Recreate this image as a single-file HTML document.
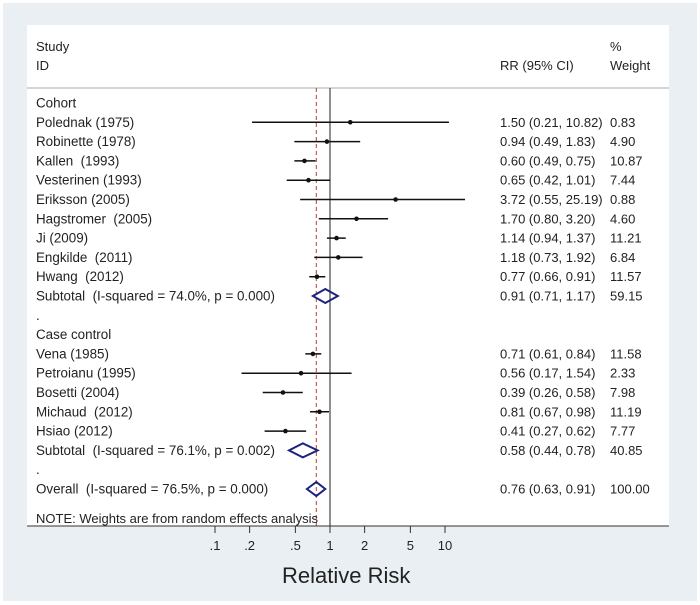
<!DOCTYPE html>
<html><head><meta charset="utf-8"><style>
body{margin:0;background:#fff;width:700px;height:605px;overflow:hidden}
svg{display:block;font-family:"Liberation Sans",sans-serif}
text{white-space:pre}
</style></head><body>
<svg id="chart" width="700" height="605">
<rect x="3" y="3" width="694" height="598" fill="#e9eff2"/>
<rect x="27" y="25" width="642" height="501" fill="#fff"/>
<g font-size="13" fill="#222">
<text x="36" y="51">Study</text>
<text x="36" y="70">ID</text>
<text x="500" y="70">RR (95% CI)</text>
<text x="610" y="51">%</text>
<text x="610" y="70">Weight</text>
</g>
<line x1="27" y1="88" x2="669" y2="88" stroke="#aaa" stroke-width="1"/>
<g id="rows"></g>
<text x="282" y="583" font-size="22" fill="#222">Relative Risk</text>
</svg>
<script>
const labels=["Cohort","Polednak (1975)","Robinette (1978)","Kallen  (1993)","Vesterinen (1993)","Eriksson (2005)","Hagstromer  (2005)","Ji (2009)","Engkilde  (2011)","Hwang  (2012)","Subtotal  (I-squared = 74.0%, p = 0.000)",".","Case control","Vena (1985)","Petroianu (1995)","Bosetti (2004)","Michaud  (2012)","Hsiao (2012)","Subtotal  (I-squared = 76.1%, p = 0.002)",".","Overall  (I-squared = 76.5%, p = 0.000)"];
const kinds=["h","s","s","s","s","s","s","s","s","s","d","h","h","s","s","s","s","s","d","h","d"];
const rr=[null,1.50,0.94,0.60,0.65,3.72,1.70,1.14,1.18,0.77,0.91,null,null,0.71,0.56,0.39,0.81,0.41,0.58,null,0.76];
const lo=[null,0.21,0.49,0.49,0.42,0.55,0.80,0.94,0.73,0.66,0.71,null,null,0.61,0.17,0.26,0.67,0.27,0.44,null,0.63];
const hi=[null,10.82,1.83,0.75,1.01,25.19,3.20,1.37,1.92,0.91,1.17,null,null,0.84,1.54,0.58,0.98,0.62,0.78,null,0.91];
const weights=[null,"0.83","4.90","10.87","7.44","0.88","4.60","11.21","6.84","11.57","59.15",null,null,"11.58","2.33","7.98","11.19","7.77","40.85",null,"100.00"];
const ticks=[0.1,0.2,0.5,1,2,5,10];
const tickLabels=[".1",".2",".5","1","2","5","10"];
const overall=0.76;
const NS="http://www.w3.org/2000/svg";
const X=v=>330+115*Math.log10(v);
const Y=i=>103+i*19.3;
const XMAX=465;
const svg=document.getElementById('chart');
const g=document.getElementById('rows');
function mk(t,a,p){const e=document.createElementNS(NS,t);for(const k in a)e.setAttribute(k,a[k]);(p||g).appendChild(e);return e;}
const f=v=>v.toFixed(2);
let l=mk('line',{x1:330,y1:88,x2:330,y2:526,stroke:'#222','stroke-width':1});


l=mk('line',{x1:X(overall),y1:88,x2:X(overall),y2:526,stroke:'#c0392b','stroke-width':1,'stroke-dasharray':'4,3'});


labels.forEach((lab,i)=>{
  const y=Y(i);
  const t=mk('text',{x:36,y:y+4.5,'font-size':13.4,fill:'#222'});t.textContent=lab;
  
  
  if(rr[i]==null)return;
  const r=mk('text',{x:500,y:y+4.5,'font-size':13,fill:'#222'});
  r.textContent=f(rr[i])+" ("+f(lo[i])+", "+f(hi[i])+")";
  
  
  const w=mk('text',{x:610,y:y+4.5,'font-size':13,fill:'#222'});w.textContent=weights[i];
  
  
  if(kinds[i]=="s"){
    const ci=mk('line',{x1:X(lo[i]),y1:y,x2:Math.min(X(hi[i]),XMAX),y2:y,stroke:'#111','stroke-width':1.5});
    
    
    const c=mk('circle',{cx:X(rr[i]),cy:y,r:2.3,fill:'#111'});
    
    
  }else{
    const a=X(lo[i]),b=X(hi[i]),m=X(rr[i]);
    const d=mk('polygon',{points:`${a},${y} ${m},${y-7} ${b},${y} ${m},${y+7}`,fill:'none',stroke:'#1a237e','stroke-width':2});
    
    
  }
});
const note=mk('text',{x:36,y:523,'font-size':13,fill:'#222'});note.textContent="NOTE: Weights are from random effects analysis";


const ax=mk('line',{x1:27,y1:526,x2:669,y2:526,stroke:'#333','stroke-width':1},svg);


ticks.forEach((v,i)=>{
  const tk=mk('line',{x1:X(v),y1:526,x2:X(v),y2:533,stroke:'#333','stroke-width':1},svg);
  
  
  const tl=mk('text',{x:X(v),y:550,'font-size':13,fill:'#222','text-anchor':'middle'},svg);tl.textContent=tickLabels[i];
  
  
});
</script>
</body></html>
